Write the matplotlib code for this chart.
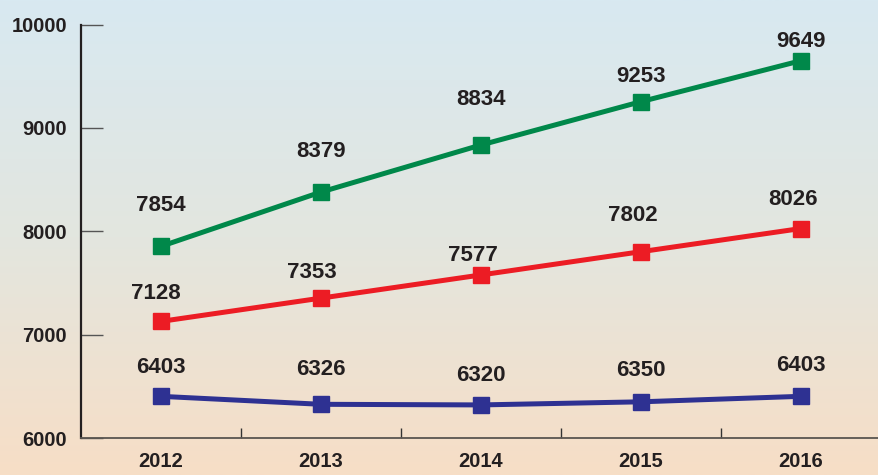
import numpy as np
import matplotlib.pyplot as plt
from matplotlib.colors import LinearSegmentedColormap

years = ['2012', '2013', '2014', '2015', '2016']
green_vals = [7854, 8379, 8834, 9253, 9649]
red_vals = [7128, 7353, 7577, 7802, 8026]
blue_vals = [6403, 6326, 6320, 6350, 6403]
y_ticks = [6000, 7000, 8000, 9000, 10000]

# label baseline offsets above the markers, in pixels
green_dy = [35, 35, 40, 20, 13.5]
red_dy = [22, 20, 13.5, 30.5, 23.5]
blue_dy = [23, 29, 24, 25.5, 25.5]
red_dx = [-5.5, -9, -8, -8, -8]
zero_dx = [0, 0, 0, 0, 0]

plt.rcParams['font.family'] = ['Liberation Sans', 'DejaVu Sans']
plt.rcParams['font.weight'] = 'bold'
text_col = '#231F20'
px = 0.72  # points per pixel at dpi 100

fig = plt.figure(figsize=(8.79, 4.75), dpi=100)

# gradient background
bg = fig.add_axes([0, 0, 1, 1], zorder=-1)
cmap = LinearSegmentedColormap.from_list('bg', ['#D8E9F1', '#E3E6DF', '#F7DEC6'])
bg.imshow(np.linspace(0, 1, 256).reshape(-1, 1), aspect='auto', cmap=cmap,
          extent=[0, 1, 0, 1])
bg.set_axis_off()

ax = fig.add_axes([81 / 879, 37 / 475, 1 - 81 / 879, (438 - 24.5) / 475])
ax.patch.set_alpha(0)

x = np.arange(len(years))
series = [(green_vals, '#00884A', zero_dx, green_dy),
          (red_vals, '#EC1C24', red_dx, red_dy),
          (blue_vals, '#2E3192', zero_dx, blue_dy)]
for vals, col, dxs, dys in series:
    ax.plot(x, vals, color=col, lw=3.6, marker='s', ms=11.5, zorder=3)
    for xi, v, dx, dy in zip(x, vals, dxs, dys):
        ax.annotate(str(v), (xi, v), xytext=(dx * px, dy * px),
                    textcoords='offset points', ha='center', va='baseline',
                    fontsize=16, fontweight='bold', color=text_col)

ax.set_xlim(-0.5, 4.49)
ax.set_ylim(6000, 10000)
ax.set_yticks(y_ticks)
ax.set_yticklabels([str(t) for t in y_ticks], fontsize=14.5, fontweight='bold',
                   color=text_col)
ax.tick_params(axis='y', direction='in', length=16, width=1, color='#555555', pad=10)

ax.set_xticks(x)
ax.set_xticklabels(years, fontsize=14.5, fontweight='bold', color=text_col)
ax.set_xticks(np.arange(0.5, 4.5, 1), minor=True)
ax.tick_params(axis='x', which='major', length=0, pad=10)
ax.tick_params(axis='x', which='minor', direction='in', length=7, width=1,
               color='#333333')

for s in ['top', 'right']:
    ax.spines[s].set_visible(False)
ax.spines['left'].set_linewidth(1.6)
ax.spines['left'].set_color('#231F20')
ax.spines['bottom'].set_linewidth(1.3)
ax.spines['bottom'].set_color('#5a5550')

fig.savefig('out.png', dpi=100)
